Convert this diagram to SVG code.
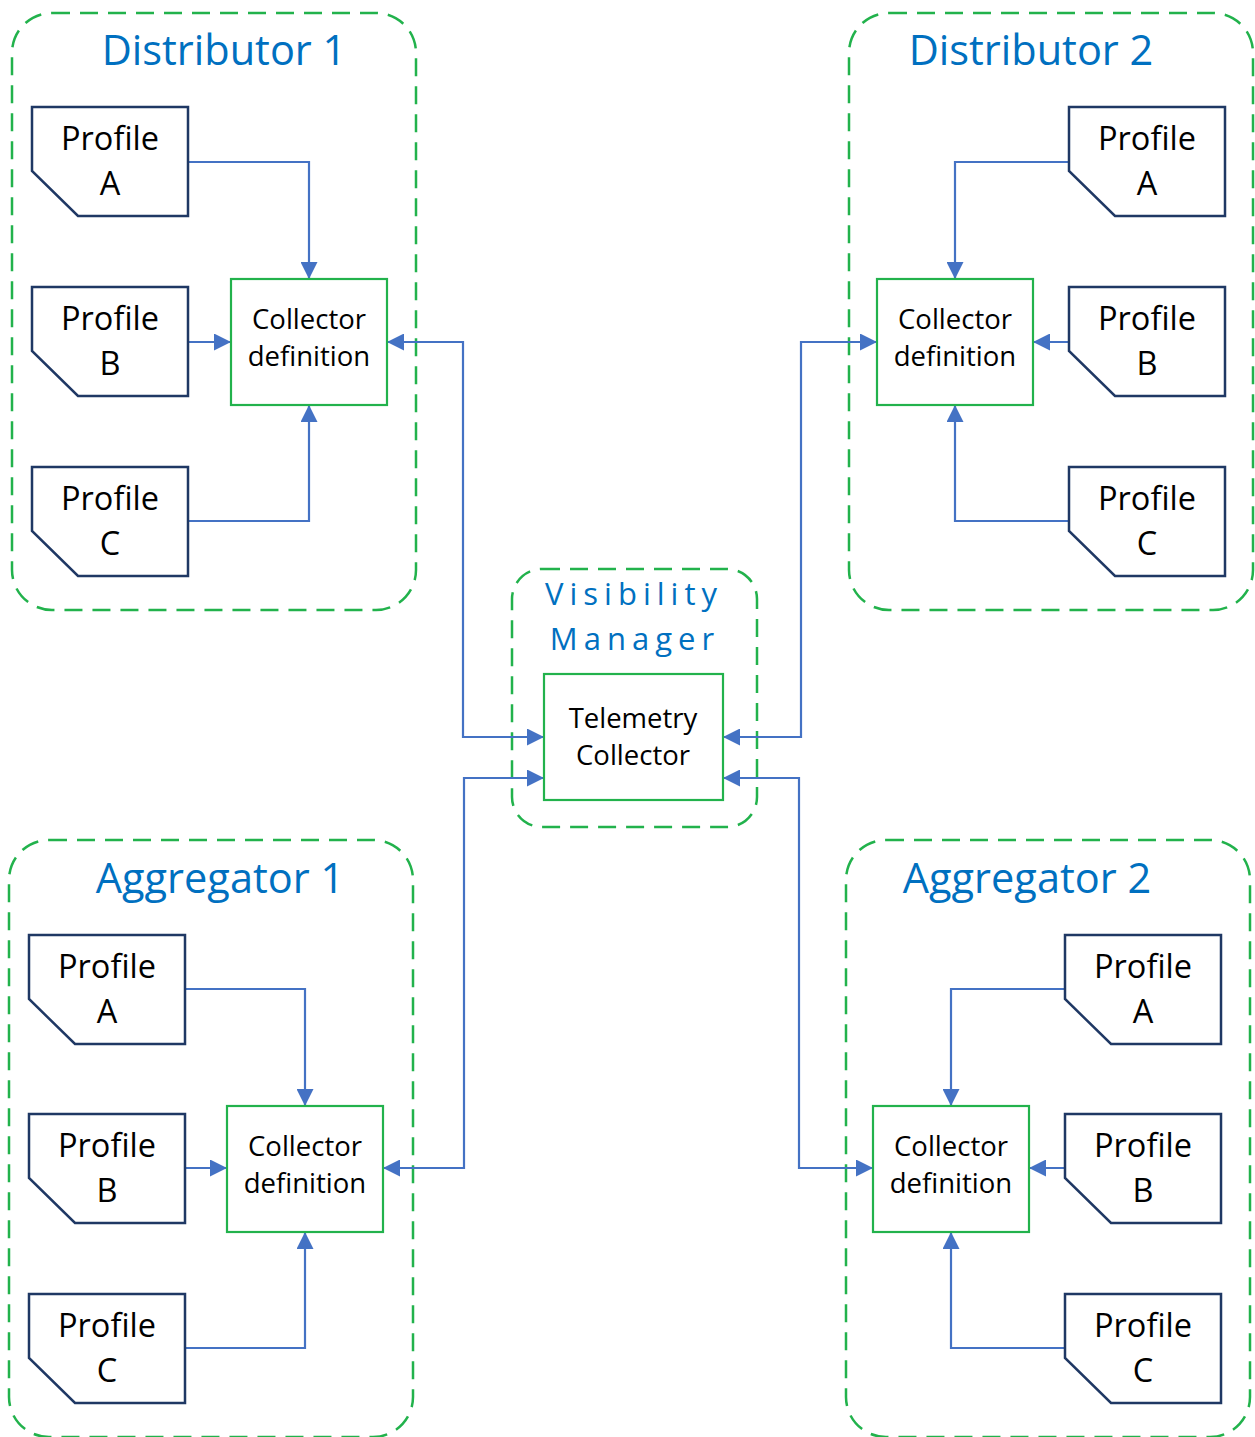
<svg xmlns="http://www.w3.org/2000/svg" width="1255" height="1437" viewBox="0 0 1255 1437">
<style>
.cont{fill:none;stroke:#22B24C;stroke-width:2.5;stroke-dasharray:18 10}
.prof{fill:#fff;stroke:#1F3864;stroke-width:2.5}
.coll{fill:#fff;stroke:#22B24C;stroke-width:2.2}
.title{font-family:"Open Sans","Liberation Sans",sans-serif;font-size:41.5px;fill:#0070C0;text-anchor:middle}
.vm{font-family:"Open Sans","Liberation Sans",sans-serif;font-size:31px;fill:#0070C0;text-anchor:middle;letter-spacing:6px}
.pt{font-family:"Open Sans","Liberation Sans",sans-serif;font-size:32.5px;fill:#000;text-anchor:middle}
.ct{font-family:"Open Sans","Liberation Sans",sans-serif;font-size:27.5px;fill:#000;text-anchor:middle}
.conn{fill:none;stroke:#4472C4;stroke-width:2.2}
</style>
<defs>
<marker id="ah" viewBox="0 0 17 17" refX="17" refY="8.5" markerWidth="17" markerHeight="17" markerUnits="userSpaceOnUse" orient="auto-start-reverse">
<path d="M0,0 L17,8.5 L0,17 z" fill="#4472C4"/>
</marker>
<path id="pshape" d="M0,0 H156 V109 H46 L0,64 Z"/>
</defs>
<rect width="1255" height="1437" fill="#fff"/>

<g id="distributor1">
<rect class="cont" x="12" y="13" width="404" height="597" rx="40"/>
<text class="title" x="224" y="65">Distributor 1</text>
</g>
<g id="distributor2">
<rect class="cont" x="849" y="13" width="404" height="597" rx="40"/>
<text class="title" x="1031" y="65">Distributor 2</text>
</g>
<g id="aggregator1">
<rect class="cont" x="9" y="840" width="404" height="597" rx="40"/>
<text class="title" x="220" y="893">Aggregator 1</text>
</g>
<g id="aggregator2">
<rect class="cont" x="846" y="840" width="404" height="597" rx="40"/>
<text class="title" x="1027" y="893">Aggregator 2</text>
</g>
<g id="visibility-manager">
<rect class="cont" x="512" y="569" width="245" height="258" rx="30"/>
<text class="vm" x="634" y="605">Visibility</text>
<text class="vm" x="635" y="650">Manager</text>
</g>

<g id="connectors">
<path class="conn" d="M188,162 H309 V279" marker-end="url(#ah)"/>
<path class="conn" d="M188,342 H231" marker-end="url(#ah)"/>
<path class="conn" d="M188,521 H309 V405" marker-end="url(#ah)"/>
<path class="conn" d="M1069,162 H955 V279" marker-end="url(#ah)"/>
<path class="conn" d="M1069,342 H1033" marker-end="url(#ah)"/>
<path class="conn" d="M1069,521 H955 V405" marker-end="url(#ah)"/>
<path class="conn" d="M185,989 H305 V1106" marker-end="url(#ah)"/>
<path class="conn" d="M185,1168 H227" marker-end="url(#ah)"/>
<path class="conn" d="M185,1348 H305 V1232" marker-end="url(#ah)"/>
<path class="conn" d="M1065,989 H951 V1106" marker-end="url(#ah)"/>
<path class="conn" d="M1065,1168 H1029" marker-end="url(#ah)"/>
<path class="conn" d="M1065,1348 H951 V1232" marker-end="url(#ah)"/>
<path class="conn" d="M387,342 H463 V737 H544" marker-start="url(#ah)" marker-end="url(#ah)"/>
<path class="conn" d="M877,342 H801 V737 H723" marker-start="url(#ah)" marker-end="url(#ah)"/>
<path class="conn" d="M383,1168 H464 V778 H544" marker-start="url(#ah)" marker-end="url(#ah)"/>
<path class="conn" d="M873,1168 H799 V778 H723" marker-start="url(#ah)" marker-end="url(#ah)"/>
</g>

<g id="telemetry-collector">
<rect class="coll" x="544" y="674" width="179" height="126"/>
<text class="ct" x="633" y="728">Telemetry</text>
<text class="ct" x="633" y="765">Collector</text>
</g>

<g id="d1-collector">
<rect class="coll" x="231" y="279" width="156" height="126"/>
<text class="ct" x="309" y="329">Collector</text>
<text class="ct" x="309" y="366">definition</text>
</g>
<g id="d2-collector">
<rect class="coll" x="877" y="279" width="156" height="126"/>
<text class="ct" x="955" y="329">Collector</text>
<text class="ct" x="955" y="366">definition</text>
</g>
<g id="a1-collector">
<rect class="coll" x="227" y="1106" width="156" height="126"/>
<text class="ct" x="305" y="1156">Collector</text>
<text class="ct" x="305" y="1193">definition</text>
</g>
<g id="a2-collector">
<rect class="coll" x="873" y="1106" width="156" height="126"/>
<text class="ct" x="951" y="1156">Collector</text>
<text class="ct" x="951" y="1193">definition</text>
</g>

<g id="d1-profile-a" transform="translate(32,107)"><use href="#pshape" class="prof"/><text class="pt" x="78" y="43">Profile</text><text class="pt" x="78" y="88">A</text></g>
<g id="d1-profile-b" transform="translate(32,287)"><use href="#pshape" class="prof"/><text class="pt" x="78" y="43">Profile</text><text class="pt" x="78" y="88">B</text></g>
<g id="d1-profile-c" transform="translate(32,467)"><use href="#pshape" class="prof"/><text class="pt" x="78" y="43">Profile</text><text class="pt" x="78" y="88">C</text></g>

<g id="d2-profile-a" transform="translate(1069,107)"><use href="#pshape" class="prof"/><text class="pt" x="78" y="43">Profile</text><text class="pt" x="78" y="88">A</text></g>
<g id="d2-profile-b" transform="translate(1069,287)"><use href="#pshape" class="prof"/><text class="pt" x="78" y="43">Profile</text><text class="pt" x="78" y="88">B</text></g>
<g id="d2-profile-c" transform="translate(1069,467)"><use href="#pshape" class="prof"/><text class="pt" x="78" y="43">Profile</text><text class="pt" x="78" y="88">C</text></g>

<g id="a1-profile-a" transform="translate(29,935)"><use href="#pshape" class="prof"/><text class="pt" x="78" y="43">Profile</text><text class="pt" x="78" y="88">A</text></g>
<g id="a1-profile-b" transform="translate(29,1114)"><use href="#pshape" class="prof"/><text class="pt" x="78" y="43">Profile</text><text class="pt" x="78" y="88">B</text></g>
<g id="a1-profile-c" transform="translate(29,1294)"><use href="#pshape" class="prof"/><text class="pt" x="78" y="43">Profile</text><text class="pt" x="78" y="88">C</text></g>

<g id="a2-profile-a" transform="translate(1065,935)"><use href="#pshape" class="prof"/><text class="pt" x="78" y="43">Profile</text><text class="pt" x="78" y="88">A</text></g>
<g id="a2-profile-b" transform="translate(1065,1114)"><use href="#pshape" class="prof"/><text class="pt" x="78" y="43">Profile</text><text class="pt" x="78" y="88">B</text></g>
<g id="a2-profile-c" transform="translate(1065,1294)"><use href="#pshape" class="prof"/><text class="pt" x="78" y="43">Profile</text><text class="pt" x="78" y="88">C</text></g>
</svg>
